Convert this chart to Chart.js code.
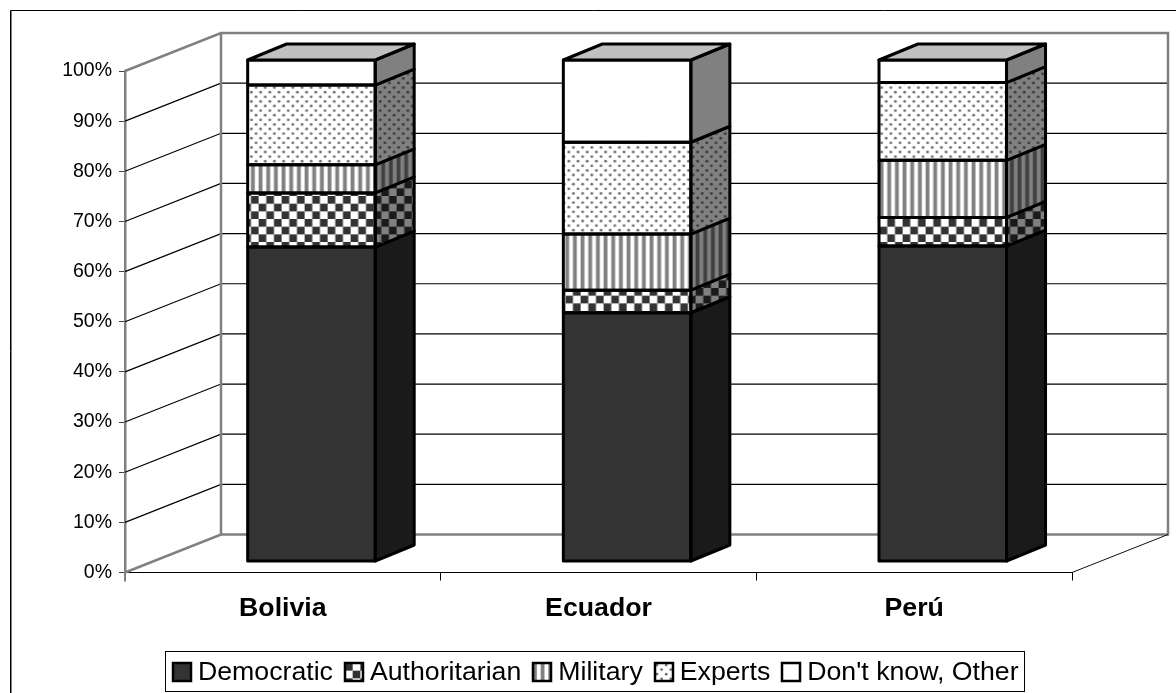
<!DOCTYPE html>
<html><head><meta charset="utf-8">
<style>html,body{margin:0;padding:0;background:#fff}canvas{display:block}</style>
<script src="https://cdn.jsdelivr.net/npm/chart.js@4/dist/chart.umd.min.js"></script>
</head><body><div style="width:1176px;height:693px"><canvas id="c" width="1176" height="693"></canvas></div>
<script>
const categories = ["Bolivia", "Ecuador", "Perú"];
const seriesNames = ["Democratic", "Authoritarian", "Military", "Experts", "Don't know, Other"];
const democratic = [62.7, 49.6, 62.9];
const authoritarian = [10.8, 4.5, 5.7];
const military = [5.6, 11.2, 11.4];
const experts = [15.9, 18.3, 15.5];
const dontKnow = [5.0, 16.4, 4.5];
const seriesValues = [democratic, authoritarian, military, experts, dontKnow];
const yTicks = [0,10,20,30,40,50,60,70,80,90,100];

function tile(w, h, draw) {
  const t = document.createElement('canvas'); t.width = w; t.height = h;
  draw(t.getContext('2d'), w, h);
  return document.createElement('canvas').getContext('2d').createPattern(t, 'repeat');
}
function checker(dark, light) {
  const u = 46 / 6;
  return tile(46, 46, (g, w, h) => {
    g.fillStyle = light; g.fillRect(0, 0, w, h); g.fillStyle = dark;
    for (let r = 0; r < 6; r++) for (let c = 0; c < 6; c++)
      if ((r + c) % 2 === 0) g.fillRect(c * u, r * u, u, u);
  });
}
function stripes(bar, bg) {
  const u = 23 / 3;
  return tile(23, 23, (g, w, h) => {
    g.fillStyle = bg; g.fillRect(0, 0, w, h); g.fillStyle = bar;
    for (let c = 0; c < 3; c++) g.fillRect(c * u, 0, u / 2, h);
  });
}
function dots(dot, bg) {
  return tile(46, 46, (g, w, h) => {
    g.fillStyle = bg; g.fillRect(0, 0, w, h); g.fillStyle = dot;
    for (let r = 0; r < 10; r++) for (let c = 0; c < 6; c++) {
      g.beginPath();
      g.arc((c * 9.2 + (r % 2 ? 4.6 : 0)) + 2, r * 4.6 + 2, 1.4, 0, 7);
      g.fill();
    }
  });
}
const frontFill = ['#333333', checker('#333333', '#ffffff'), stripes('#808080', '#ffffff'), dots('#707070', '#ffffff'), '#ffffff'];
const sideFill = ['#1a1a1a', checker('#1a1a1a', '#808080'), stripes('#404040', '#808080'), dots('#383838', '#808080'), '#808080'];

const DEPTH = { dx: 96, dy: -38 };        // wall offset from the axis plane
const BAR_SHIFT = { dx: 28.6, dy: -11 };  // bars stand mid-depth on the floor
const BAR_DEPTH = { dx: 39, dy: -16 };

function seg(c, a, b, d, e) { c.beginPath(); c.moveTo(a, b); c.lineTo(d, e); c.stroke(); }

const chart3d = {
  id: 'chart3d',
  beforeDraw(chart) {
    const l = chart.legend;
    const hits = l.legendHitBoxes || [];
    if (hits.length && hits[0].left !== 173) {
      const dx = 173 - hits[0].left, dy = 647.5 - l.top;
      l.left += dx; l.right += dx; l.top += dy; l.bottom += dy;
      hits.forEach(h => { h.left += dx; h.top += dy; });
    }
    const c = chart.ctx;
    c.save();
    c.fillStyle = '#fff'; c.fillRect(0, 0, 1176, 693);
    c.lineWidth = 1;
    c.strokeStyle = '#808080'; seg(c, 11.5, 11, 11.5, 693);
    c.strokeStyle = '#000'; seg(c, 10.5, 693, 10.5, 10.5); seg(c, 10.5, 10.5, 1176, 10.5);
    c.restore();
  },
  beforeDatasetsDraw(chart) {
    const c = chart.ctx, y = chart.scales.y, x = chart.scales.x;
    const L = x.left, R = x.right;
    c.save();
    c.lineWidth = 1.2; c.strokeStyle = '#000';
    yTicks.slice(1, -1).forEach(v => {
      const p = y.getPixelForValue(v);
      c.beginPath();
      c.moveTo(L, p); c.lineTo(L + DEPTH.dx, p + DEPTH.dy); c.lineTo(R + DEPTH.dx, p + DEPTH.dy);
      c.stroke();
    });
    const t = y.getPixelForValue(100), b = y.getPixelForValue(0);
    c.lineWidth = 2.5; c.strokeStyle = '#808080';
    c.beginPath();
    c.moveTo(L, t); c.lineTo(L + DEPTH.dx, t + DEPTH.dy); c.lineTo(R + DEPTH.dx, t + DEPTH.dy);
    c.lineTo(R + DEPTH.dx, b + DEPTH.dy); c.lineTo(L + DEPTH.dx, b + DEPTH.dy); c.lineTo(L, b);
    c.moveTo(L + DEPTH.dx, t + DEPTH.dy); c.lineTo(L + DEPTH.dx, b + DEPTH.dy);
    c.stroke();
    c.lineWidth = 1; c.strokeStyle = '#111';
    seg(c, R, b, R + DEPTH.dx, b + DEPTH.dy);
    c.lineWidth = 2; c.strokeStyle = '#808080';
    seg(c, L, b, L, b + 9);
    c.restore();
    c.save();
    c.translate(BAR_SHIFT.dx, BAR_SHIFT.dy);
  },
  afterDatasetsDraw(chart) {
    const c = chart.ctx;
    const D = BAR_DEPTH;
    c.lineJoin = 'round';
    c.lineWidth = 3; c.strokeStyle = '#000';
    chart.data.datasets.forEach((ds, i) => {
      chart.getDatasetMeta(i).data.forEach(bar => {
        const p = bar.getProps(['x', 'y', 'base', 'width'], true);
        const x1 = p.x - p.width / 2, x2 = p.x + p.width / 2;
        c.beginPath();
        c.moveTo(x2, p.y); c.lineTo(x2 + D.dx, p.y + D.dy);
        c.lineTo(x2 + D.dx, p.base + D.dy); c.lineTo(x2, p.base); c.closePath();
        c.fillStyle = sideFill[i]; c.fill(); c.stroke();
        c.strokeRect(x1, p.y, p.width, p.base - p.y);
        if (i === chart.data.datasets.length - 1) {
          c.beginPath();
          c.moveTo(x1, p.y); c.lineTo(x1 + D.dx, p.y + D.dy);
          c.lineTo(x2 + D.dx, p.y + D.dy); c.lineTo(x2, p.y); c.closePath();
          c.fillStyle = '#c0c0c0'; c.fill(); c.stroke();
        }
      });
    });
    c.restore();
  },
  afterDraw(chart) {
    const c = chart.ctx, l = chart.legend;
    c.save();
    c.lineWidth = 1; c.strokeStyle = '#000';
    c.strokeRect(165.5, 651.5, 859, 40);
    l.legendHitBoxes.forEach((h, i) => {
      const sx = Math.round(h.left), sy = 663, s = 18;
      c.save();
      c.translate(sx, sy);
      c.fillStyle = frontFill[i];
      c.fillRect(0, 0, s, s);
      c.lineWidth = 2.5; c.strokeStyle = '#000';
      c.strokeRect(0, 0, s, s);
      c.restore();
    });
    c.restore();
  }
};

new Chart(document.getElementById('c'), {
  type: 'bar',
  plugins: [chart3d],
  data: {
    labels: categories,
    datasets: seriesNames.map((n, i) => ({
      label: n, data: seriesValues[i],
      backgroundColor: frontFill[i], borderWidth: 0,
      barPercentage: 0.404, categoryPercentage: 1
    }))
  },
  options: {
    responsive: false, animation: false,
    layout: { padding: { left: 10, right: 104, top: 71, bottom: 0 } },
    plugins: {
      tooltip: { enabled: false },
      legend: {
        position: 'bottom',
        labels: {
          font: { family: 'Liberation Sans', size: 26.7 }, color: '#000',
          boxWidth: 11.65, padding: 12,
          generateLabels: ch => ch.data.datasets.map((d, i) => ({
            text: d.label, datasetIndex: i,
            fillStyle: 'rgba(0,0,0,0)', strokeStyle: 'rgba(0,0,0,0)', lineWidth: 0
          }))
        }
      }
    },
    scales: {
      x: {
        stacked: true,
        afterFit: s => { s.height = 120.5 - (s.chart.legend ? s.chart.legend.height : 40); },
        border: { color: '#000', width: 1 },
        grid: { color: '#000', drawOnChartArea: false, tickLength: 8 },
        ticks: { color: '#000', padding: 12, maxRotation: 0, font: { family: 'Liberation Sans', size: 26.7, weight: 'bold' } }
      },
      y: {
        stacked: true, min: 0, max: 100,
        afterFit: s => { s.width = 115; },
        afterBuildTicks: s => { s.ticks = yTicks.map(v => ({ value: v })); },
        border: { color: '#808080', width: 2.5 },
        grid: { color: '#444', drawOnChartArea: false, tickLength: 6 },
        ticks: { color: '#000', padding: 7, callback: v => v + '%', font: { family: 'Liberation Sans', size: 19.5 } }
      }
    }
  }
});
</script></body></html>
